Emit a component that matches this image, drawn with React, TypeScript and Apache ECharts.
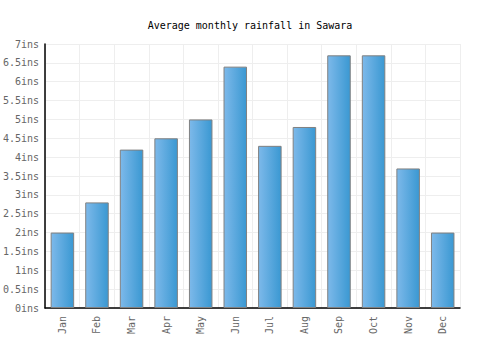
import React, { useEffect, useRef } from "react";
import * as echarts from "echarts";

const months = ["Jan", "Feb", "Mar", "Apr", "May", "Jun", "Jul", "Aug", "Sep", "Oct", "Nov", "Dec"];
const rainfall = [2, 2.8, 4.2, 4.5, 5, 6.4, 4.3, 4.8, 6.7, 6.7, 3.7, 2];
const title = "Average monthly rainfall in Sawara";

export default function App() {
  const ref = useRef<HTMLDivElement>(null);
  useEffect(() => {
    if (!ref.current) return;
    const chart = echarts.init(ref.current, null, { renderer: "svg" });
    const font = "'DejaVu Sans Mono', monospace";
    chart.setOption({
      animation: false,
      title: {
        text: title,
        left: "center",
        top: 15,
        textStyle: { fontFamily: font, fontSize: 10, fontWeight: "normal", color: "#000" },
      },
      grid: { left: 41, right: 40, top: 44, bottom: 42 },
      xAxis: {
        type: "category",
        data: months,
        axisLine: { lineStyle: { color: "#000", width: 1.5 } },
        axisTick: { show: false },
        axisLabel: { rotate: 90, fontFamily: font, fontSize: 10, color: "#666", margin: 8 },
        splitLine: { show: true, lineStyle: { color: "#eeeeee" } },
      },
      yAxis: {
        type: "value",
        min: 0,
        max: 7,
        interval: 0.5,
        axisLine: { show: true, lineStyle: { color: "#000", width: 1.5 } },
        axisTick: { show: false },
        axisLabel: { fontFamily: font, fontSize: 10, color: "#666", margin: 6, formatter: (v: number) => `${v}ins` },
        splitLine: { show: true, lineStyle: { color: "#eeeeee" } },
      },
      series: [
        {
          type: "bar",
          data: rainfall,
          barWidth: "68%",
          itemStyle: {
            color: new echarts.graphic.LinearGradient(0, 0, 1, 0, [
              { offset: 0, color: "#7db9ea" },
              { offset: 1, color: "#3a98d2" },
            ]),
            borderColor: "#808080",
            borderWidth: 1,
          },
        },
      ],
    });
    return () => chart.dispose();
  }, []);
  return <div ref={ref} style={{ position: "absolute", left: 0, top: 0, width: 500, height: 350 }} />;
}
